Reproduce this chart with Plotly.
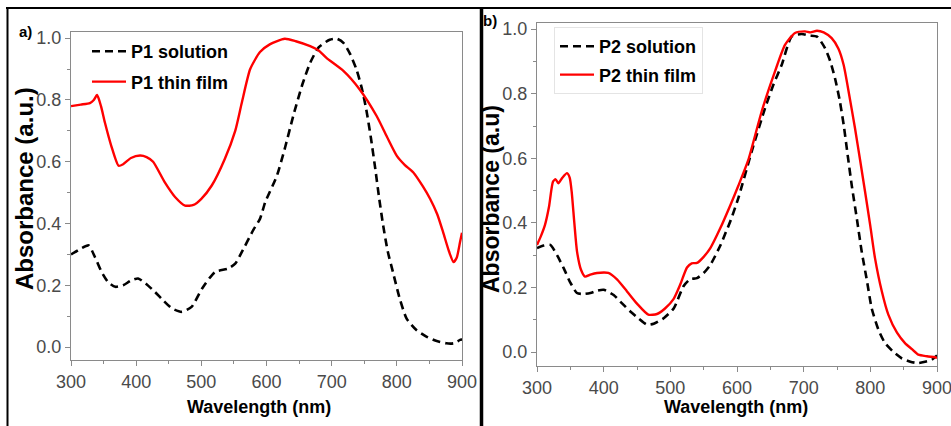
import plotly.graph_objects as go

W, H = 951, 426

# ---------------- data ----------------
p1_film_wl = [300, 315, 329, 335, 340, 346, 352, 362, 373, 380, 392, 406, 416, 426, 444, 460, 475, 488, 500,
              516, 536, 552, 562, 575, 590, 605, 628, 645, 667, 680, 692, 718, 743, 769, 785, 800, 812, 825,
              840, 851, 862, 871, 880, 887, 892, 897, 900]
p1_film_abs = [0.78, 0.785, 0.79, 0.80, 0.816, 0.78, 0.727, 0.65, 0.587, 0.592, 0.612, 0.62, 0.615, 0.60, 0.533,
               0.485, 0.458, 0.46, 0.48, 0.523, 0.609, 0.70, 0.79, 0.90, 0.955, 0.98, 0.998, 0.99, 0.974, 0.96,
               0.936, 0.894, 0.834, 0.748, 0.68, 0.619, 0.59, 0.566, 0.52, 0.48, 0.43, 0.372, 0.31, 0.275, 0.29,
               0.34, 0.37]

p1_sol_wl = [300, 306, 316, 327, 337, 347, 357, 368, 380, 392, 403, 415, 429, 442, 455, 470, 485, 501, 521, 541,
             552, 562, 580, 590, 598, 616, 629, 641, 655, 667, 680, 697, 708, 718, 728, 738, 746, 753, 760, 767,
             773, 779, 786, 794, 804, 815, 830, 846, 860, 876, 887, 897, 900]
p1_sol_abs = [0.30, 0.307, 0.32, 0.329, 0.29, 0.243, 0.21, 0.195, 0.20, 0.215, 0.222, 0.205, 0.178, 0.15, 0.125,
              0.114, 0.13, 0.189, 0.243, 0.254, 0.27, 0.307, 0.38, 0.415, 0.469, 0.555, 0.65, 0.748, 0.85, 0.92,
              0.97, 0.995, 0.998, 0.985, 0.95, 0.899, 0.84, 0.77, 0.68, 0.576, 0.48, 0.394, 0.31, 0.243, 0.16,
              0.092, 0.055, 0.033, 0.02, 0.012, 0.012, 0.023, 0.025]

p2_film_wl = [300, 306, 312, 318, 324, 328, 332, 338, 345, 349, 352, 356, 360, 366, 372, 380, 390, 407, 420, 435,
              450, 467, 480, 492, 505, 515, 525, 532, 540, 550, 560, 575, 590, 602, 617, 637, 657, 672, 687, 702,
              710, 720, 730, 742, 752, 760, 768, 777, 785, 792, 800, 807, 817, 827, 840, 852, 862, 872, 885, 897,
              900]
p2_film_abs = [0.332, 0.36, 0.394, 0.45, 0.528, 0.535, 0.523, 0.54, 0.554, 0.54, 0.497, 0.40, 0.312, 0.255, 0.234,
               0.24, 0.245, 0.245, 0.225, 0.188, 0.15, 0.116, 0.118, 0.135, 0.165, 0.21, 0.262, 0.275, 0.276, 0.295,
               0.322, 0.384, 0.455, 0.515, 0.595, 0.745, 0.869, 0.951, 0.988, 0.993, 0.99, 0.995, 0.99, 0.972, 0.94,
               0.889, 0.80, 0.693, 0.59, 0.498, 0.39, 0.291, 0.19, 0.116, 0.06, 0.028, 0.01, -0.008, -0.013,
               -0.016, -0.018]

p2_sol_wl = [300, 310, 320, 330, 340, 350, 360, 370, 380, 390, 400, 415, 428, 440, 452, 465, 475, 490, 505, 520,
             530, 540, 550, 560, 575, 582, 590, 602, 622, 642, 655, 667, 682, 697, 708, 720, 732, 740, 747, 754,
             760, 766, 772, 780, 787, 795, 802, 812, 822, 835, 847, 860, 872, 882, 892, 900]
p2_sol_abs = [0.322, 0.33, 0.332, 0.30, 0.26, 0.215, 0.183, 0.18, 0.183, 0.19, 0.193, 0.177, 0.15, 0.126, 0.105,
              0.085, 0.088, 0.105, 0.135, 0.205, 0.226, 0.229, 0.245, 0.27, 0.33, 0.365, 0.405, 0.477, 0.621, 0.755,
              0.83, 0.889, 0.977, 0.985, 0.98, 0.977, 0.941, 0.90, 0.848, 0.78, 0.704, 0.61, 0.518, 0.41, 0.312,
              0.22, 0.136, 0.07, 0.028, 0.0, -0.019, -0.03, -0.034, -0.03, -0.024, -0.01]

x_ticks = [300, 400, 500, 600, 700, 800, 900]
y_ticks = [0.0, 0.2, 0.4, 0.6, 0.8, 1.0]

FONT = "Liberation Sans, Arial, sans-serif"
RED = "#ff0000"
DASH = "8px,5px"


def px_x(p):
    return p / W


def px_y(p):
    return 1 - p / H


fig = go.Figure()

fig.add_trace(go.Scatter(x=p1_sol_wl, y=p1_sol_abs, mode="lines", name="P1 solution",
                         line=dict(color="black", width=2.6, dash=DASH, shape="spline", smoothing=0.6),
                         xaxis="x", yaxis="y", legend="legend", legendgroup="a1"))
fig.add_trace(go.Scatter(x=p1_film_wl, y=p1_film_abs, mode="lines", name="P1 thin film",
                         line=dict(color=RED, width=2.4, shape="spline", smoothing=0.6),
                         xaxis="x", yaxis="y", legend="legend", legendgroup="a2"))
fig.add_trace(go.Scatter(x=p2_sol_wl, y=p2_sol_abs, mode="lines", name="P2 solution",
                         line=dict(color="black", width=2.6, dash=DASH, shape="spline", smoothing=0.6),
                         xaxis="x2", yaxis="y2", legend="legend2", legendgroup="b1"))
fig.add_trace(go.Scatter(x=p2_film_wl, y=p2_film_abs, mode="lines", name="P2 thin film",
                         line=dict(color=RED, width=2.4, shape="spline", smoothing=0.6),
                         xaxis="x2", yaxis="y2", legend="legend2", legendgroup="b2"))

axis_common = dict(
    showline=True, linecolor="#8a8a8a", linewidth=1, mirror=True,
    ticks="outside", ticklen=5, tickcolor="#8a8a8a", tickwidth=1,
    showgrid=False, zeroline=False, automargin=False, ticklabeloverflow="allow",
    tickfont=dict(family=FONT, size=18, color="#4a4a4a"),
)

xa = dict(axis_common, range=[300, 900], tickvals=x_ticks,
          minor=dict(dtick=50, ticks="outside", ticklen=3, tickcolor="#8a8a8a", showgrid=False))
ya = dict(axis_common, range=[-0.042, 1.02], tickvals=y_ticks, tickformat=".1f",
          minor=dict(dtick=0.1, ticks="outside", ticklen=3, tickcolor="#8a8a8a", showgrid=False))

fig.update_layout(
    width=W, height=H, autosize=False,
    margin=dict(l=0, r=0, t=0, b=0, pad=0, autoexpand=False),
    paper_bgcolor="white", plot_bgcolor="white",
    font=dict(family=FONT, color="black"),
    xaxis=dict(xa, domain=[px_x(71), px_x(462)], anchor="y"),
    yaxis=dict(ya, domain=[px_y(360), px_y(32)], anchor="x"),
    xaxis2=dict(xa, domain=[px_x(537), px_x(937)], anchor="y2"),
    yaxis2=dict(ya, domain=[px_y(366), px_y(23)], anchor="x2", range=[-0.043, 1.019]),
    legend=dict(x=px_x(87), y=px_y(33), xanchor="left", yanchor="top",
                bgcolor="rgba(0,0,0,0)", borderwidth=0, traceorder="grouped",
                tracegroupgap=4, itemwidth=34,
                font=dict(family=FONT, size=18, color="black", weight="bold")),
    legend2=dict(x=px_x(554), y=px_y(27), xanchor="left", yanchor="top",
                 bgcolor="white", bordercolor="#e4e4e4", borderwidth=1, traceorder="grouped",
                 tracegroupgap=2, itemwidth=34,
                 font=dict(family=FONT, size=18, color="black", weight="bold")),
    showlegend=True,
)

annotations = [
    dict(text="<b>a)</b>", x=px_x(25), y=px_y(31), font=dict(size=15)),
    dict(text="<b>b)</b>", x=px_x(490), y=px_y(20), font=dict(size=15)),
    dict(text="<b>Absorbance (a.u.)</b>", x=px_x(24), y=px_y(189), textangle=-90, font=dict(size=24)),
    dict(text="<b>Absorbance (a.u)</b>", x=px_x(491), y=px_y(199), textangle=-90, font=dict(size=23)),
    dict(text="<b>Wavelength (nm)</b>", x=px_x(259), y=px_y(407), font=dict(size=18)),
    dict(text="<b>Wavelength (nm)</b>", x=px_x(736), y=px_y(407), font=dict(size=18)),
]
for a in annotations:
    a.update(xref="paper", yref="paper", showarrow=False, xanchor="center", yanchor="middle")
    a["font"].update(family=FONT, color="black")
fig.update_layout(annotations=annotations)

frame = dict(type="line", xref="paper", yref="paper", line=dict(color="black"))
fig.update_layout(shapes=[
    dict(frame, x0=px_x(6), x1=1, y0=px_y(8), y1=px_y(8), line=dict(color="black", width=2)),
    dict(frame, x0=px_x(7.5), x1=px_x(7.5), y0=px_y(7), y1=0, line=dict(color="black", width=2)),
    dict(frame, x0=px_x(481.5), x1=px_x(481.5), y0=px_y(7), y1=0, line=dict(color="black", width=3.5)),
])

fig.write_html("out.html", config={"displayModeBar": False},
               post_script="document.body.style.margin='0';document.body.style.overflow='hidden';")
